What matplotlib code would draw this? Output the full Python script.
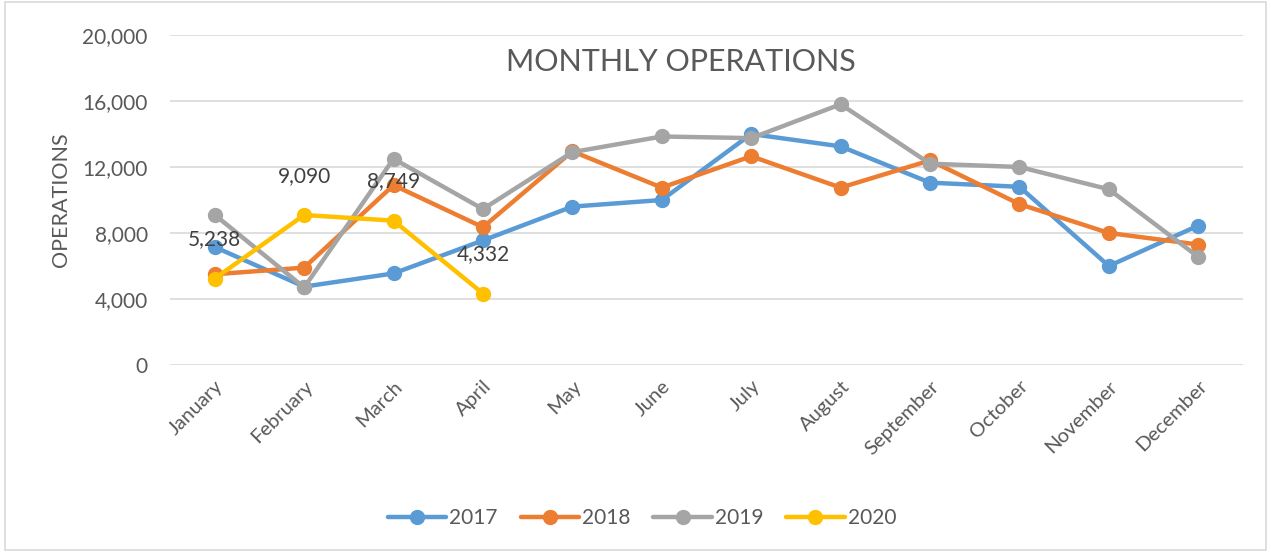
import matplotlib
matplotlib.use("Agg")
import matplotlib.pyplot as plt
from matplotlib.patches import Rectangle
from matplotlib.ticker import FuncFormatter, MultipleLocator

months = ["January", "February", "March", "April", "May", "June", "July",
          "August", "September", "October", "November", "December"]
ops_2017 = [7150, 4750, 5550, 7550, 9600, 10000, 14000, 13250, 11050, 10800, 6000, 8450]
ops_2018 = [5500, 5900, 10900, 8350, 12950, 10750, 12650, 10750, 12400, 9750, 8000, 7300]
ops_2019 = [9100, 4700, 12500, 9450, 12900, 13850, 13750, 15800, 12200, 12000, 10650, 6550]
ops_2020 = [5238, 9090, 8749, 4332]

series = [("2017", ops_2017, "#5B9BD5"), ("2018", ops_2018, "#ED7D31"),
          ("2019", ops_2019, "#A5A5A5"), ("2020", ops_2020, "#FFC000")]

plt.rcParams['font.family'] = ['Lato', 'DejaVu Sans']
txt = "#595959"

fig = plt.figure(figsize=(12.71, 5.52), dpi=100)
fig.patches.append(Rectangle((0.004, 0.004), 0.992, 0.992, transform=fig.transFigure,
                             fill=False, edgecolor="#D9D9D9", linewidth=1.2))
ax = fig.add_axes([170 / 1271, 1 - 365 / 552, (1243 - 170) / 1271, (365 - 35) / 552])

x = list(range(len(months)))
for name, vals, col in series:
    ax.plot(x[:len(vals)], vals, color=col, linewidth=3.2, marker="o", markersize=10,
            label=name, solid_capstyle="round", zorder=3)

for i, v in enumerate(ops_2020):
    ax.annotate(f"{v:,}", (i, v), xytext=(0, 21), textcoords="offset points",
                ha="center", va="bottom", fontsize=15, color="#404040", zorder=5)

ax.set_xlim(-0.5, 11.5)
ax.set_ylim(0, 20000)
ax.yaxis.set_major_locator(MultipleLocator(4000))
ax.yaxis.set_major_formatter(FuncFormatter(lambda v, p: f"{int(v):,}"))
ax.grid(axis="y", color="#D9D9D9", linewidth=1.2, zorder=0)
ax.set_axisbelow(True)
for s in ax.spines.values():
    s.set_visible(False)
ax.set_xticks(x)
ax.set_xticklabels(months, rotation=45, ha="right", rotation_mode="anchor")
ax.tick_params(axis="both", length=0, colors=txt)
ax.tick_params(axis="x", pad=9, labelsize=14.5)
ax.tick_params(axis="y", pad=16, labelsize=15)
ax.set_ylabel("OPERATIONS", fontsize=15.5, color=txt, labelpad=8)

fig.text(681 / 1271, 1 - 62 / 552, "MONTHLY OPERATIONS", ha="center", va="center",
         fontsize=22, color=txt)

leg = fig.legend(loc="center", bbox_to_anchor=(642 / 1271, 1 - 518 / 552), ncol=4,
                 frameon=False, fontsize=15, handlelength=2.8, columnspacing=1.1,
                 handletextpad=0.15, labelcolor=txt)

fig.savefig("out.png", dpi=100)
